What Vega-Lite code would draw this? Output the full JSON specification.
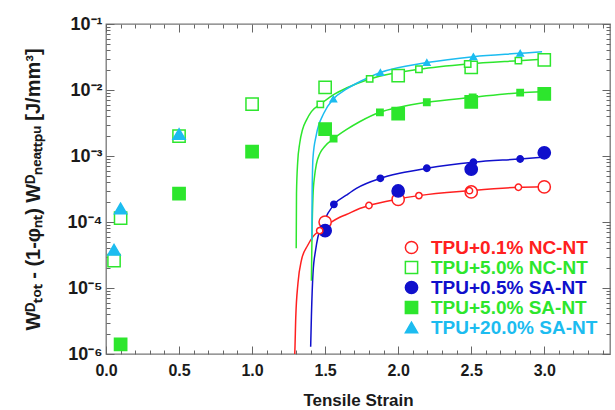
{
  "$schema": "https://vega.github.io/schema/vega-lite/v6.json",
  "width": 504,
  "height": 330,
  "autosize": {"type": "none"},
  "padding": {"left": 106, "top": 24, "right": 5, "bottom": 56},
  "background": "white",
  "config": {
    "view": {"stroke": "#777777", "strokeWidth": 1.3},
    "font": "Liberation Sans",
    "legend": {
      "padding": 0, "rowPadding": 0, "labelOffset": 10,
      "symbolSize": 150, "symbolStrokeWidth": 1.5,
      "labelFont": "Liberation Sans", "labelFontWeight": "bold", "labelFontSize": 19, "labelLimit": 300
    }
  },
  "datasets": {
    "pts": [
      {"s": "TPU+0.1% NC-NT", "k": "data", "x": 1.5, "y": 1.0e-4},
      {"s": "TPU+0.1% NC-NT", "k": "data", "x": 2.0, "y": 2.2e-4},
      {"s": "TPU+0.1% NC-NT", "k": "data", "x": 2.5, "y": 2.85e-4},
      {"s": "TPU+0.1% NC-NT", "k": "data", "x": 3.0, "y": 3.4e-4},
      {"s": "TPU+5.0% NC-NT", "k": "data", "x": 0.055, "y": 2.6e-5},
      {"s": "TPU+5.0% NC-NT", "k": "data", "x": 0.1, "y": 1.14e-4},
      {"s": "TPU+5.0% NC-NT", "k": "data", "x": 0.5, "y": 2.0e-3},
      {"s": "TPU+5.0% NC-NT", "k": "data", "x": 1.0, "y": 6.1e-3},
      {"s": "TPU+5.0% NC-NT", "k": "data", "x": 1.5, "y": 1.1e-2},
      {"s": "TPU+5.0% NC-NT", "k": "data", "x": 2.0, "y": 1.65e-2},
      {"s": "TPU+5.0% NC-NT", "k": "data", "x": 2.5, "y": 2.2e-2},
      {"s": "TPU+5.0% NC-NT", "k": "data", "x": 3.0, "y": 2.85e-2},
      {"s": "TPU+0.5% SA-NT", "k": "data", "x": 1.5, "y": 7.4e-5},
      {"s": "TPU+0.5% SA-NT", "k": "data", "x": 2.0, "y": 2.95e-4},
      {"s": "TPU+0.5% SA-NT", "k": "data", "x": 2.5, "y": 6.3e-4},
      {"s": "TPU+0.5% SA-NT", "k": "data", "x": 3.0, "y": 1.12e-3},
      {"s": "TPU+5.0% SA-NT", "k": "data", "x": 0.1, "y": 1.4e-6},
      {"s": "TPU+5.0% SA-NT", "k": "data", "x": 0.5, "y": 2.7e-4},
      {"s": "TPU+5.0% SA-NT", "k": "data", "x": 1.0, "y": 1.16e-3},
      {"s": "TPU+5.0% SA-NT", "k": "data", "x": 1.5, "y": 2.56e-3},
      {"s": "TPU+5.0% SA-NT", "k": "data", "x": 2.0, "y": 4.4e-3},
      {"s": "TPU+5.0% SA-NT", "k": "data", "x": 2.5, "y": 6.6e-3},
      {"s": "TPU+5.0% SA-NT", "k": "data", "x": 3.0, "y": 8.7e-3},
      {"s": "TPU+20.0% SA-NT", "k": "data", "x": 0.055, "y": 3.8e-5},
      {"s": "TPU+20.0% SA-NT", "k": "data", "x": 0.1, "y": 1.6e-4},
      {"s": "TPU+20.0% SA-NT", "k": "data", "x": 0.5, "y": 2.15e-3},
      {"s": "TPU+0.1% NC-NT", "k": "fit", "x": 1.463, "y": 7.4e-5},
      {"s": "TPU+0.1% NC-NT", "k": "fit", "x": 1.8, "y": 1.78e-4},
      {"s": "TPU+0.1% NC-NT", "k": "fit", "x": 2.142, "y": 2.51e-4},
      {"s": "TPU+0.1% NC-NT", "k": "fit", "x": 2.488, "y": 2.98e-4},
      {"s": "TPU+0.1% NC-NT", "k": "fit", "x": 2.823, "y": 3.36e-4},
      {"s": "TPU+5.0% NC-NT", "k": "fit", "x": 1.467, "y": 6.07e-3},
      {"s": "TPU+5.0% NC-NT", "k": "fit", "x": 1.805, "y": 1.47e-2},
      {"s": "TPU+5.0% NC-NT", "k": "fit", "x": 2.142, "y": 2.06e-2},
      {"s": "TPU+5.0% NC-NT", "k": "fit", "x": 2.476, "y": 2.48e-2},
      {"s": "TPU+5.0% NC-NT", "k": "fit", "x": 2.823, "y": 2.78e-2},
      {"s": "TPU+0.5% SA-NT", "k": "fit", "x": 1.56, "y": 1.85e-4},
      {"s": "TPU+0.5% SA-NT", "k": "fit", "x": 1.878, "y": 4.59e-4},
      {"s": "TPU+0.5% SA-NT", "k": "fit", "x": 2.196, "y": 6.52e-4},
      {"s": "TPU+0.5% SA-NT", "k": "fit", "x": 2.515, "y": 8.04e-4},
      {"s": "TPU+0.5% SA-NT", "k": "fit", "x": 2.835, "y": 9.01e-4},
      {"s": "TPU+5.0% SA-NT", "k": "fit", "x": 1.558, "y": 1.83e-3},
      {"s": "TPU+5.0% SA-NT", "k": "fit", "x": 1.875, "y": 4.59e-3},
      {"s": "TPU+5.0% SA-NT", "k": "fit", "x": 2.196, "y": 6.52e-3},
      {"s": "TPU+5.0% SA-NT", "k": "fit", "x": 2.51, "y": 7.74e-3},
      {"s": "TPU+5.0% SA-NT", "k": "fit", "x": 2.835, "y": 9.11e-3},
      {"s": "TPU+20.0% SA-NT", "k": "fit", "x": 1.556, "y": 7.3e-3},
      {"s": "TPU+20.0% SA-NT", "k": "fit", "x": 1.878, "y": 1.84e-2},
      {"s": "TPU+20.0% SA-NT", "k": "fit", "x": 2.196, "y": 2.6e-2},
      {"s": "TPU+20.0% SA-NT", "k": "fit", "x": 2.515, "y": 3.2e-2},
      {"s": "TPU+20.0% SA-NT", "k": "fit", "x": 2.835, "y": 3.6e-2}
    ],
    "fit": [
      {"s": "TPU+0.1% NC-NT", "x": 1.288, "y": 8e-7},
      {"s": "TPU+0.1% NC-NT", "x": 1.292, "y": 1.0e-6},
      {"s": "TPU+0.1% NC-NT", "x": 1.299, "y": 3.6e-6},
      {"s": "TPU+0.1% NC-NT", "x": 1.314, "y": 1.18e-5},
      {"s": "TPU+0.1% NC-NT", "x": 1.338, "y": 2.65e-5},
      {"s": "TPU+0.1% NC-NT", "x": 1.38, "y": 4.4e-5},
      {"s": "TPU+0.1% NC-NT", "x": 1.417, "y": 6.0e-5},
      {"s": "TPU+0.1% NC-NT", "x": 1.463, "y": 7.5e-5},
      {"s": "TPU+0.1% NC-NT", "x": 1.531, "y": 9.6e-5},
      {"s": "TPU+0.1% NC-NT", "x": 1.6, "y": 1.18e-4},
      {"s": "TPU+0.1% NC-NT", "x": 1.645, "y": 1.3e-4},
      {"s": "TPU+0.1% NC-NT", "x": 1.736, "y": 1.6e-4},
      {"s": "TPU+0.1% NC-NT", "x": 1.8, "y": 1.78e-4},
      {"s": "TPU+0.1% NC-NT", "x": 1.986, "y": 2.2e-4},
      {"s": "TPU+0.1% NC-NT", "x": 2.142, "y": 2.51e-4},
      {"s": "TPU+0.1% NC-NT", "x": 2.488, "y": 2.98e-4},
      {"s": "TPU+0.1% NC-NT", "x": 2.823, "y": 3.36e-4},
      {"s": "TPU+0.1% NC-NT", "x": 2.985, "y": 3.43e-4},
      {"s": "TPU+5.0% NC-NT", "x": 1.302, "y": 4.0e-5},
      {"s": "TPU+5.0% NC-NT", "x": 1.304, "y": 2.7e-4},
      {"s": "TPU+5.0% NC-NT", "x": 1.312, "y": 8.0e-4},
      {"s": "TPU+5.0% NC-NT", "x": 1.326, "y": 1.56e-3},
      {"s": "TPU+5.0% NC-NT", "x": 1.345, "y": 2.5e-3},
      {"s": "TPU+5.0% NC-NT", "x": 1.372, "y": 3.5e-3},
      {"s": "TPU+5.0% NC-NT", "x": 1.406, "y": 4.7e-3},
      {"s": "TPU+5.0% NC-NT", "x": 1.467, "y": 6.07e-3},
      {"s": "TPU+5.0% NC-NT", "x": 1.55, "y": 8.3e-3},
      {"s": "TPU+5.0% NC-NT", "x": 1.65, "y": 1.08e-2},
      {"s": "TPU+5.0% NC-NT", "x": 1.805, "y": 1.47e-2},
      {"s": "TPU+5.0% NC-NT", "x": 2.142, "y": 2.06e-2},
      {"s": "TPU+5.0% NC-NT", "x": 2.476, "y": 2.48e-2},
      {"s": "TPU+5.0% NC-NT", "x": 2.823, "y": 2.78e-2},
      {"s": "TPU+5.0% NC-NT", "x": 2.985, "y": 2.92e-2},
      {"s": "TPU+0.5% SA-NT", "x": 1.401, "y": 1.29e-6},
      {"s": "TPU+0.5% SA-NT", "x": 1.406, "y": 3.67e-6},
      {"s": "TPU+0.5% SA-NT", "x": 1.417, "y": 1.67e-5},
      {"s": "TPU+0.5% SA-NT", "x": 1.435, "y": 3.77e-5},
      {"s": "TPU+0.5% SA-NT", "x": 1.451, "y": 5.98e-5},
      {"s": "TPU+0.5% SA-NT", "x": 1.485, "y": 9.55e-5},
      {"s": "TPU+0.5% SA-NT", "x": 1.56, "y": 1.85e-4},
      {"s": "TPU+0.5% SA-NT", "x": 1.645, "y": 2.55e-4},
      {"s": "TPU+0.5% SA-NT", "x": 1.714, "y": 3.24e-4},
      {"s": "TPU+0.5% SA-NT", "x": 1.878, "y": 4.59e-4},
      {"s": "TPU+0.5% SA-NT", "x": 2.01, "y": 5.47e-4},
      {"s": "TPU+0.5% SA-NT", "x": 2.196, "y": 6.52e-4},
      {"s": "TPU+0.5% SA-NT", "x": 2.515, "y": 8.04e-4},
      {"s": "TPU+0.5% SA-NT", "x": 2.835, "y": 9.01e-4},
      {"s": "TPU+0.5% SA-NT", "x": 2.985, "y": 9.55e-4},
      {"s": "TPU+5.0% SA-NT", "x": 1.406, "y": 1.29e-5},
      {"s": "TPU+5.0% SA-NT", "x": 1.41, "y": 6.0e-5},
      {"s": "TPU+5.0% SA-NT", "x": 1.417, "y": 2.5e-4},
      {"s": "TPU+5.0% SA-NT", "x": 1.428, "y": 5.0e-4},
      {"s": "TPU+5.0% SA-NT", "x": 1.44, "y": 7.5e-4},
      {"s": "TPU+5.0% SA-NT", "x": 1.463, "y": 1.08e-3},
      {"s": "TPU+5.0% SA-NT", "x": 1.5, "y": 1.42e-3},
      {"s": "TPU+5.0% SA-NT", "x": 1.558, "y": 1.83e-3},
      {"s": "TPU+5.0% SA-NT", "x": 1.645, "y": 2.5e-3},
      {"s": "TPU+5.0% SA-NT", "x": 1.736, "y": 3.3e-3},
      {"s": "TPU+5.0% SA-NT", "x": 1.875, "y": 4.59e-3},
      {"s": "TPU+5.0% SA-NT", "x": 2.01, "y": 5.5e-3},
      {"s": "TPU+5.0% SA-NT", "x": 2.196, "y": 6.52e-3},
      {"s": "TPU+5.0% SA-NT", "x": 2.51, "y": 7.74e-3},
      {"s": "TPU+5.0% SA-NT", "x": 2.835, "y": 9.11e-3},
      {"s": "TPU+5.0% SA-NT", "x": 2.985, "y": 9.42e-3},
      {"s": "TPU+20.0% SA-NT", "x": 1.409, "y": 5.3e-5},
      {"s": "TPU+20.0% SA-NT", "x": 1.411, "y": 2.7e-4},
      {"s": "TPU+20.0% SA-NT", "x": 1.417, "y": 9.5e-4},
      {"s": "TPU+20.0% SA-NT", "x": 1.44, "y": 2.1e-3},
      {"s": "TPU+20.0% SA-NT", "x": 1.49, "y": 4.4e-3},
      {"s": "TPU+20.0% SA-NT", "x": 1.556, "y": 7.3e-3},
      {"s": "TPU+20.0% SA-NT", "x": 1.645, "y": 1.03e-2},
      {"s": "TPU+20.0% SA-NT", "x": 1.75, "y": 1.38e-2},
      {"s": "TPU+20.0% SA-NT", "x": 1.878, "y": 1.84e-2},
      {"s": "TPU+20.0% SA-NT", "x": 2.196, "y": 2.6e-2},
      {"s": "TPU+20.0% SA-NT", "x": 2.515, "y": 3.2e-2},
      {"s": "TPU+20.0% SA-NT", "x": 2.835, "y": 3.6e-2},
      {"s": "TPU+20.0% SA-NT", "x": 2.985, "y": 3.8e-2}
    ]
  },
  "layer": [
    {
      "data": {"name": "fit"},
      "mark": {"type": "line", "interpolate": "monotone", "strokeWidth": 1.5, "clip": true},
      "encoding": {
        "x": {
          "field": "x", "type": "quantitative",
          "scale": {"type": "linear", "domain": [0, 3.45], "nice": false, "zero": false},
          "axis": {
            "orient": "bottom", "title": "Tensile Strain",
            "values": [0,0.1,0.2,0.3,0.4,0.5,0.6,0.7,0.8,0.9,1.0,1.1,1.2,1.3,1.4,1.5,1.6,1.7,1.8,1.9,2.0,2.1,2.2,2.3,2.4,2.5,2.6,2.7,2.8,2.9,3.0,3.1,3.2,3.3,3.4],
            "labelExpr": "abs(datum.value*2-round(datum.value*2))<0.001 && datum.value<3.01 ? format(datum.value,'.1f') : ''",
            "labelOverlap": false, "labelBound": false, "labelFlush": false,
            "domain": false, "grid": false,
            "tickColor": "#666666", "tickWidth": 1,
            "tickSize": {"condition": {"test": "abs(datum.value*2-round(datum.value*2))<0.001", "value": -8}, "value": -4},
            "labelFont": "Liberation Sans", "labelFontWeight": "bold", "labelFontSize": 16, "labelColor": "#1a1a1a",
            "labelPadding": 16,
            "titleFont": "Liberation Sans", "titleFontWeight": "bold", "titleFontSize": 17, "titleColor": "#1a1a1a",
            "titlePadding": 10
          }
        },
        "y": {
          "field": "y", "type": "quantitative",
          "scale": {"type": "log", "domain": [1e-6, 0.1], "nice": false},
          "axis": {
            "orient": "left",
            "title": "Wᴰₜₒₜ - (1-φₙₜ) Wᴰₙₑₐₜₜₚᵤ [J/mm³]",
            "values": [1e-6,2e-6,3e-6,4e-6,5e-6,6e-6,7e-6,8e-6,9e-6,1e-5,2e-5,3e-5,4e-5,5e-5,6e-5,7e-5,8e-5,9e-5,1e-4,2e-4,3e-4,4e-4,5e-4,6e-4,7e-4,8e-4,9e-4,0.001,0.002,0.003,0.004,0.005,0.006,0.007,0.008,0.009,0.01,0.02,0.03,0.04,0.05,0.06,0.07,0.08,0.09,0.1],
            "labelExpr": "abs(log(datum.value)/LN10-round(log(datum.value)/LN10))<0.01 ? '10' + ['⁰','⁻¹','⁻²','⁻³','⁻⁴','⁻⁵','⁻⁶'][-round(log(datum.value)/LN10)] : ''",
            "labelOverlap": false, "labelBound": false, "labelFlush": false,
            "domain": false, "grid": false,
            "tickColor": "#666666", "tickWidth": 1,
            "tickSize": {"condition": {"test": "abs(log(datum.value)/LN10-round(log(datum.value)/LN10))<0.01", "value": -8}, "value": -4},
            "labelFont": "Liberation Sans", "labelFontWeight": "bold", "labelFontSize": 18, "labelColor": "#1a1a1a",
            "labelPadding": 12,
            "titleFont": "Liberation Sans", "titleFontWeight": "bold", "titleFontSize": 20, "titleColor": "#1a1a1a",
            "titlePadding": 24
          }
        },
        "color": {
          "field": "s", "type": "nominal", "legend": null,
          "scale": {
            "domain": ["TPU+20.0% SA-NT", "TPU+5.0% SA-NT", "TPU+0.5% SA-NT", "TPU+5.0% NC-NT", "TPU+0.1% NC-NT"],
            "range": ["#1cbcf0", "#2de62d", "#1010cc", "#2de62d", "#ff2020"]
          }
        }
      }
    },
    {
      "data": {"name": "fit"},
      "mark": {"type": "point", "opacity": 0},
      "encoding": {
        "x": {
          "field": "x", "type": "quantitative",
          "axis": {
            "orient": "top", "title": null, "labels": false,
            "values": [0,0.1,0.2,0.3,0.4,0.5,0.6,0.7,0.8,0.9,1.0,1.1,1.2,1.3,1.4,1.5,1.6,1.7,1.8,1.9,2.0,2.1,2.2,2.3,2.4,2.5,2.6,2.7,2.8,2.9,3.0,3.1,3.2,3.3,3.4],
            "domain": false, "grid": false,
            "tickColor": "#666666", "tickWidth": 1,
            "tickSize": {"condition": {"test": "abs(datum.value*2-round(datum.value*2))<0.001", "value": -8}, "value": -4}
          }
        },
        "y": {
          "field": "y", "type": "quantitative",
          "axis": {
            "orient": "right", "title": null, "labels": false,
            "values": [1e-6,2e-6,3e-6,4e-6,5e-6,6e-6,7e-6,8e-6,9e-6,1e-5,2e-5,3e-5,4e-5,5e-5,6e-5,7e-5,8e-5,9e-5,1e-4,2e-4,3e-4,4e-4,5e-4,6e-4,7e-4,8e-4,9e-4,0.001,0.002,0.003,0.004,0.005,0.006,0.007,0.008,0.009,0.01,0.02,0.03,0.04,0.05,0.06,0.07,0.08,0.09,0.1],
            "domain": false, "grid": false,
            "tickColor": "#666666", "tickWidth": 1,
            "tickSize": {"condition": {"test": "abs(log(datum.value)/LN10-round(log(datum.value)/LN10))<0.01", "value": -8}, "value": -4}
          }
        }
      }
    },
    {
      "data": {"name": "pts"},
      "mark": {"type": "point", "filled": true, "opacity": 1, "strokeWidth": 1.5},
      "encoding": {
        "x": {"field": "x", "type": "quantitative", "axis": null},
        "y": {"field": "y", "type": "quantitative", "axis": null},
        "size": {
          "field": "k", "type": "nominal", "legend": null,
          "scale": {"domain": ["data", "fit"], "range": [150, 40]}
        },
        "stroke": {
          "field": "s", "type": "nominal",
          "scale": {
            "domain": ["TPU+0.1% NC-NT", "TPU+5.0% NC-NT", "TPU+0.5% SA-NT", "TPU+5.0% SA-NT", "TPU+20.0% SA-NT"],
            "range": ["#ff2020", "#2de62d", "#1010cc", "#2de62d", "#1cbcf0"]
          },
          "legend": {"title": null, "orient": "none", "legendX": 296, "legendY": 214, "labelColor": {"expr": "scale('stroke', datum.value)"}}
        },
        "fill": {
          "field": "s", "type": "nominal",
          "scale": {
            "domain": ["TPU+0.1% NC-NT", "TPU+5.0% NC-NT", "TPU+0.5% SA-NT", "TPU+5.0% SA-NT", "TPU+20.0% SA-NT"],
            "range": ["#ffffff", "#ffffff", "#1010cc", "#2de62d", "#1cbcf0"]
          },
          "legend": {"title": null, "orient": "none", "legendX": 296, "legendY": 214, "labelColor": {"expr": "scale('stroke', datum.value)"}}
        },
        "shape": {
          "field": "s", "type": "nominal",
          "scale": {
            "domain": ["TPU+0.1% NC-NT", "TPU+5.0% NC-NT", "TPU+0.5% SA-NT", "TPU+5.0% SA-NT", "TPU+20.0% SA-NT"],
            "range": ["circle", "square", "circle", "square", "triangle-up"]
          },
          "legend": {"title": null, "orient": "none", "legendX": 296, "legendY": 214, "labelColor": {"expr": "scale('stroke', datum.value)"}}
        }
      }
    }
  ],
  "resolve": {"axis": {"x": "independent", "y": "independent"}}
}
